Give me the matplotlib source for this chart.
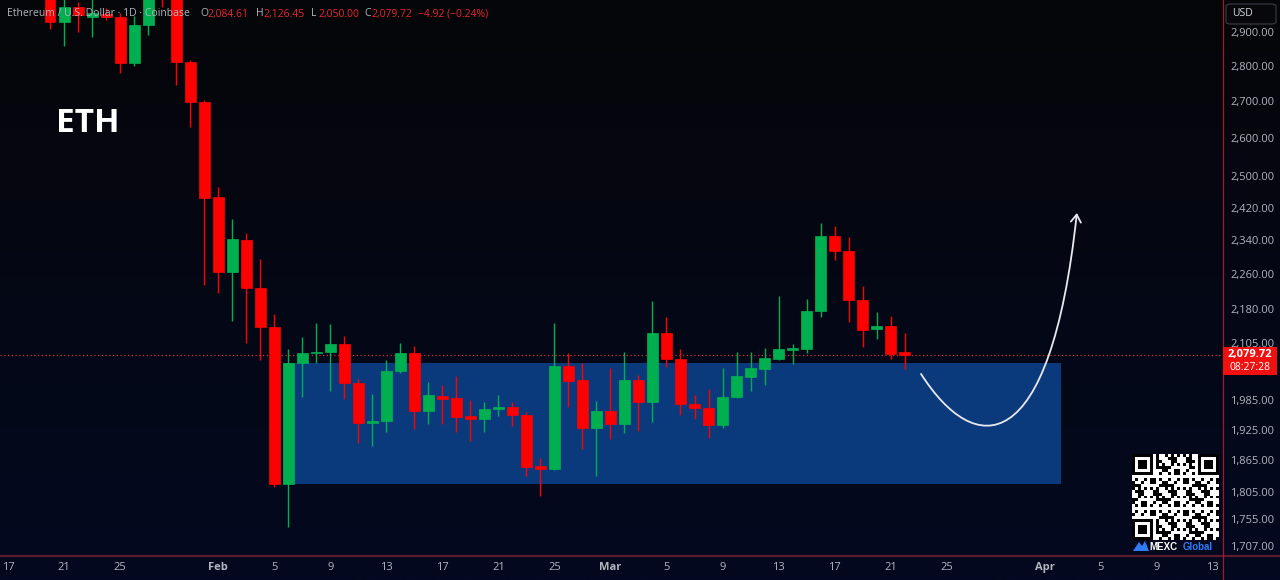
#!/usr/bin/env python3
"""ETH/USD daily candles with consolidation box (TradingView style)."""

import numpy as np
import pandas as pd
import matplotlib
matplotlib.use('Agg')
import matplotlib.pyplot as plt
import matplotlib.dates as mdates
from matplotlib.patches import Rectangle, FancyBboxPatch, FancyArrowPatch, Polygon
from matplotlib.path import Path
from matplotlib.ticker import NullLocator, FuncFormatter

plt.rcParams['font.family'] = ['Open Sans', 'DejaVu Sans']

# daily candles, 2026-01-20 .. 2026-03-22
dates = pd.date_range('2026-01-20', '2026-03-22', freq='D')
opens = [3044, 2930, 2976, 2945, 2954, 2945, 2809, 2921, 3070, 3013,
         2812, 2698, 2447, 2265, 2341, 2227, 2140, 1820, 2062, 2083,
         2085, 2103, 2020, 1938, 1942, 2045, 2083, 1962, 1993, 1989,
         1952, 1946, 1966, 1970, 1954, 1854, 1848, 2055, 2026, 1928,
         1962, 1936, 2026, 1981, 2127, 2070, 1976, 1968, 1934, 1991,
         2032, 2049, 2070, 2090, 2092, 2175, 2350, 2314, 2200, 2135,
         2142, 2084.61]
highs = [3073, 3006, 2991, 3006, 2973, 2957, 2948, 3028, 3090, 3044,
         2818, 2704, 2472, 2392, 2357, 2295, 2169, 2092, 2118, 2149,
         2146, 2120, 2028, 1997, 2068, 2105, 2098, 2022, 2016, 2034,
         1985, 1981, 1995, 1981, 1960, 1870, 2149, 2083, 2062, 1983,
         2051, 2085, 2036, 2198, 2162, 2092, 1995, 2007, 2051, 2085,
         2085, 2094, 2209, 2103, 2202, 2382, 2374, 2348, 2232, 2173,
         2164, 2126.45]
lows = [2909, 2858, 2900, 2885, 2936, 2780, 2800, 2891, 2976, 2746,
        2630, 2234, 2216, 2153, 2105, 2068, 1814, 1741, 1991, 2062,
        2003, 1987, 1899, 1893, 1920, 2041, 1926, 1936, 1936, 1920,
        1903, 1920, 1952, 1932, 1835, 1798, 1847, 1970, 1887, 1835,
        1907, 1918, 1922, 1940, 2053, 1954, 1946, 1908, 1928, 1989,
        2003, 2016, 2068, 2060, 2083, 2162, 2293, 2151, 2096, 2113,
        2070, 2050.00]
closes = [2930, 2976, 2951, 2957, 2945, 2809, 2921, 3013, 3015, 2812,
          2698, 2444, 2265, 2343, 2227, 2140, 1820, 2062, 2083, 2085,
          2103, 2020, 1938, 1942, 2045, 2083, 1962, 1995, 1987, 1950,
          1946, 1966, 1970, 1954, 1852, 1848, 2055, 2024, 1928, 1962,
          1936, 2026, 1981, 2127, 2070, 1976, 1968, 1934, 1991, 2034,
          2051, 2073, 2092, 2094, 2175, 2350, 2314, 2200, 2133, 2142,
          2081, 2079.72]

last_close = 2079.72
price_ticks = [1707, 1755, 1805, 1865, 1925, 1985, 2105, 2180, 2260,
               2340, 2420, 2500, 2600, 2700, 2800, 2900]
date_ticks = ['2026-01-17', '2026-01-21', '2026-01-25', '2026-02-01',
              '2026-02-05', '2026-02-09', '2026-02-13', '2026-02-17',
              '2026-02-21', '2026-02-25', '2026-03-01', '2026-03-05',
              '2026-03-09', '2026-03-13', '2026-03-17', '2026-03-21',
              '2026-03-25', '2026-04-01', '2026-04-05', '2026-04-09',
              '2026-04-13']
date_tick_labels = ['17', '21', '25', 'Feb', '5', '9', '13', '17', '21', '25',
                    'Mar', '5', '9', '13', '17', '21', '25', 'Apr', '5', '9', '13']

# consolidation box
box_start, box_end = '2026-02-05 15:00', '2026-04-02 04:00'
box_low, box_high = 1820, 2062

# projected path (cubic bezier control points)
curve_dates = ['2026-03-23 04:00', '2026-03-27 00:00',
               '2026-04-01 09:00', '2026-04-03 07:00']
curve_prices = [2038.7, 1869.5, 1861.8, 2406.5]

W, H = 1280, 580
RED = '#ff0000'
GREEN = '#00b050'
TXT = '#b2b5be'


def px(x, y):
    """Pixel (from top-left) to figure fraction."""
    return x / W, 1 - y / H


fig = plt.figure(figsize=(12.8, 5.8), dpi=100)

# background gradient
bg = fig.add_axes([0, 0, 1, 1], zorder=-10)
grad = np.linspace(0, 1, 256)[:, None]
top = np.array([6, 6, 9]) / 255
bot = np.array([3, 9, 32]) / 255
img = top + (bot - top) * grad[..., None]
bg.imshow(np.repeat(img, 2, axis=1), aspect='auto', extent=[0, 1, 0, 1])
bg.axis('off')

ax = fig.add_axes([0, 25 / H, 1222 / W, 1 - 25 / H])
ax.set_facecolor('none')

x = mdates.date2num(dates)
o = np.array(opens)
c = np.array(closes)
up = c >= o
colors = np.where(up, GREEN, RED)

ax.vlines(x, lows, highs, colors=colors, linewidth=1, zorder=3)
ax.bar(x, np.abs(c - o), bottom=np.minimum(o, c), width=0.78,
       color=colors, edgecolor=colors, linewidth=0.5, zorder=4)

# box
bx0 = mdates.date2num(pd.Timestamp(box_start))
bx1 = mdates.date2num(pd.Timestamp(box_end))
ax.add_patch(Rectangle((bx0, box_low), bx1 - bx0, box_high - box_low,
                       facecolor='#0b3a7c', edgecolor='none', zorder=2))

# last price dotted line
ax.axhline(last_close, color='#d32f2f', linestyle=(0, (1, 2)), linewidth=0.9, zorder=1)

# curved arrow
cx = mdates.date2num(pd.to_datetime(curve_dates))
verts = list(zip(cx, curve_prices))
path = Path(verts, [Path.MOVETO, Path.CURVE4, Path.CURVE4, Path.CURVE4])
ax.add_patch(FancyArrowPatch(path=path, arrowstyle='->,head_length=0.45,head_width=0.3',
                             mutation_scale=12, color='#e8e8ee', linewidth=1.3, zorder=5))

ax.set_yscale('log')
ax.set_ylim(1691.6, 2997.3)
x0 = mdates.date2num(pd.Timestamp('2026-01-17'))
ax.set_xlim(x0 - 0.571, x0 + 86.65)

ax.yaxis.tick_right()
ax.yaxis.set_minor_locator(NullLocator())
ax.set_yticks(price_ticks)
ax.yaxis.set_major_formatter(FuncFormatter(lambda v, p: f'{v:,.2f}'))
ax.tick_params(axis='y', length=0, pad=6, labelsize=8, labelcolor=TXT)

ax.set_xticks(mdates.date2num(pd.to_datetime(date_ticks)))
ax.set_xticklabels(date_tick_labels)
ax.xaxis.set_minor_locator(NullLocator())
ax.tick_params(axis='x', length=0, pad=5, labelsize=8, labelcolor=TXT)
for lab in ax.get_xticklabels():
    if lab.get_text() in ('Feb', 'Mar', 'Apr'):
        lab.set_fontweight('bold')

for s in ax.spines.values():
    s.set_visible(False)

# pane borders
fig.add_artist(plt.Line2D([0, 1], [1 - 555.5 / H] * 2, color='#5e1a2c', linewidth=1.6))
fig.add_artist(plt.Line2D([1222.5 / W] * 2, [0, 1], color='#a3192b', linewidth=0.9))

# last price tag
fig.add_artist(Rectangle(px(1223, 375), 54 / W, 28 / H, transform=fig.transFigure,
                         facecolor='#f01010', edgecolor='none', zorder=6))
fig.text(*px(1250, 355), '2,079.72', color='white', fontsize=8, fontweight='bold',
         ha='center', va='center', zorder=7)
fig.text(*px(1250, 368), '08:27:28', color='white', fontsize=7.5,
         ha='center', va='center', zorder=7)

# USD box
fig.add_artist(FancyBboxPatch(px(1226, 24), 50 / W, 20 / H, transform=fig.transFigure,
                              boxstyle='round,pad=0,rounding_size=0.004',
                              facecolor='#08080c', edgecolor='#3a3d46', linewidth=0.8, zorder=6))
fig.text(*px(1232, 14), 'USD', color='#d1d4dc', fontsize=7.5, ha='left', va='center', zorder=7)

# header
fig.text(*px(7, 14), 'Ethereum / U.S. Dollar \u00b7 1D \u00b7 Coinbase', color=TXT,
         fontsize=7.5, va='center')
hdr = [(200, 'O', '2,084.61'), (256, 'H', '2,126.45'),
       (311, 'L', '2,050.00'), (364, 'C', '2,079.72')]
for hx, k, v in hdr:
    fig.text(*px(hx, 14), k, color=TXT, fontsize=7.5, va='center')
    fig.text(*px(hx + 7.5, 14), v, color='#e8262f', fontsize=7.5, va='center')
fig.text(*px(418, 14), '\u22124.92 (\u22120.24%)', color='#e8262f', fontsize=7.5, va='center')

fig.text(*px(56, 123), 'ETH', color='white', fontsize=24, fontweight='bold', va='center')

# QR code (decorative)
n = 29
qr = np.ones((n, n))
ii, jj = np.meshgrid(np.arange(n), np.arange(n), indexing='ij')
qr[((ii * 31 + jj * 17 + ii * jj * 7) % 11) < 5] = 0
for (r0, c0) in [(0, 0), (0, n - 7), (n - 7, 0)]:
    qr[max(r0 - 1, 0):r0 + 8, max(c0 - 1, 0):c0 + 8] = 1
    qr[r0:r0 + 7, c0:c0 + 7] = 0
    qr[r0 + 1:r0 + 6, c0 + 1:c0 + 6] = 1
    qr[r0 + 2:r0 + 5, c0 + 2:c0 + 5] = 0
qax = fig.add_axes([1132 / W, 1 - 540 / H, 87 / W, 86 / H], zorder=6)
qax.imshow(qr, cmap='gray', vmin=0, vmax=1, interpolation='nearest', aspect='auto')
qax.axis('off')

fig.add_artist(Polygon([px(1133, 551), px(1139, 542), px(1142, 546), px(1145, 541),
                        px(1149, 551)], closed=True, transform=fig.transFigure,
                       facecolor='#2f7cf6', edgecolor='none', zorder=6))
fig.text(*px(1149, 546.5), 'MEXC', color='white', fontsize=7, fontweight='bold',
         va='center', family=['Liberation Sans', 'DejaVu Sans'])
fig.text(*px(1183, 546.5), 'Global', color='#2f7cf6', fontsize=7, fontweight='bold',
         va='center', family=['Liberation Sans', 'DejaVu Sans'])

plt.savefig('out.png', dpi=100)
print('Saved: out.png')
